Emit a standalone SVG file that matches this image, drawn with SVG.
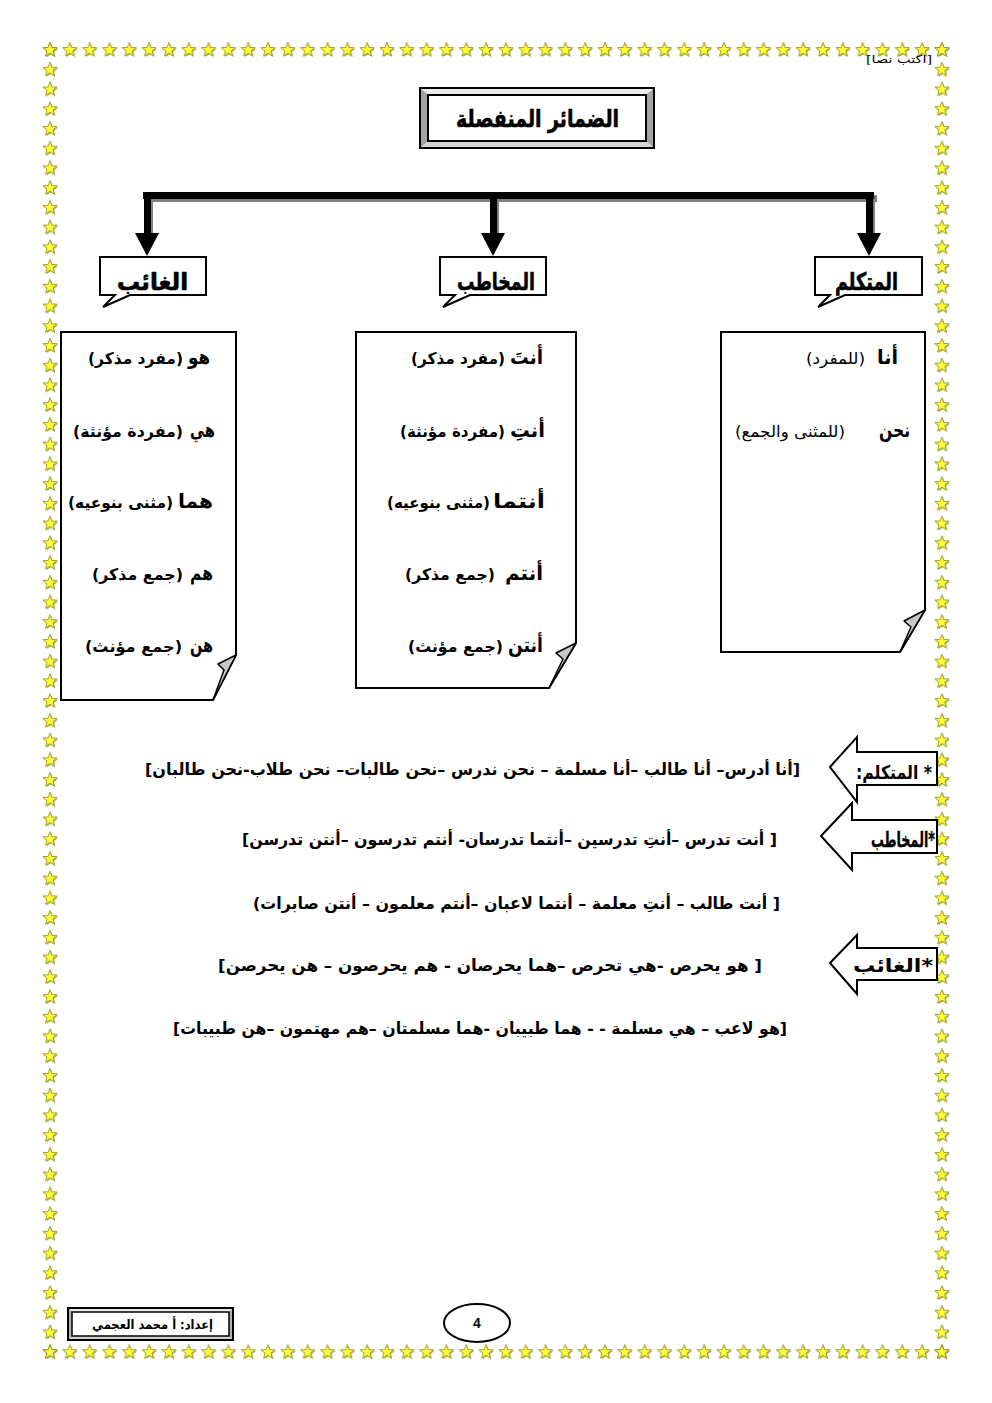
<svg xmlns="http://www.w3.org/2000/svg" width="992" height="1403" viewBox="0 0 992 1403">
<defs>
<style>
.ar{font-family:"DejaVu Sans","Noto Sans",sans-serif;font-weight:bold;fill:#000;direction:rtl;}
.reg{font-family:"DejaVu Sans","Noto Sans",sans-serif;font-weight:normal;fill:#000;direction:rtl;}
.box{fill:#fff;stroke:#000;stroke-width:2;}
.fold{fill:#c8c8c8;stroke:#000;stroke-width:1.5;stroke-linejoin:round;}
.blk{fill:#fff;stroke:#000;stroke-width:2;stroke-linejoin:miter;}
</style>
<pattern id="stars" patternUnits="userSpaceOnUse" x="40.09" y="40.135" width="19.82" height="19.73">
<g transform="translate(9.91,9.865)">
<path transform="translate(1,1)" fill="#a8a888" d="M0,-7.5 L1.83,-2.51 L7.13,-2.32 L2.95,0.96 L4.41,6.07 L0,3.1 L-4.41,6.07 L-2.95,0.96 L-7.13,-2.32 L-1.83,-2.51 Z"/>
<path fill="#ffff3c" stroke="#8c8c00" stroke-width="0.8" d="M0,-7.5 L1.83,-2.51 L7.13,-2.32 L2.95,0.96 L4.41,6.07 L0,3.1 L-4.41,6.07 L-2.95,0.96 L-7.13,-2.32 L-1.83,-2.51 Z"/>
</g>
</pattern>
</defs>
<rect width="992" height="1403" fill="#fff"/>
<g id="border">
<rect x="40.09" y="40.135" width="911.72" height="19.73" fill="url(#stars)"/>
<rect x="40.09" y="1342.135" width="911.72" height="19.73" fill="url(#stars)"/>
<rect x="40.09" y="40.135" width="19.82" height="1321.91" fill="url(#stars)"/>
<rect x="931.99" y="40.135" width="19.82" height="1321.91" fill="url(#stars)"/>
</g>
<g id="header">
<text class="reg" x="932" y="63" font-size="11" text-anchor="start" textLength="66" lengthAdjust="spacingAndGlyphs">[اكتب نصا]</text>
</g>
<g id="title">
<rect x="420" y="88" width="234" height="60" fill="#c0c0c0"/>
<polygon points="420,88 654,88 646,95 428,95" fill="#ececec"/>
<polygon points="420,88 428,95 428,141 420,148" fill="#a4a4a4"/>
<polygon points="654,88 646,95 646,141 654,148" fill="#a4a4a4"/>
<polygon points="420,148 428,141 646,141 654,148" fill="#d4d4d4"/>
<rect x="420" y="88" width="234" height="60" fill="none" stroke="#000" stroke-width="2"/>
<rect x="428" y="95" width="218" height="46" fill="#fff" stroke="#000" stroke-width="2"/>
<text class="ar" x="619" y="127" font-size="24" text-anchor="start" textLength="163" lengthAdjust="spacingAndGlyphs" stroke="#000" stroke-width="0.6">الضمائر المنفصلة</text>
</g>
<g id="connectors">
<rect x="146" y="195" width="731" height="7" fill="#808080"/>
<rect x="143" y="192" width="731" height="7" fill="#000"/>
<rect x="150" y="199" width="3" height="36" fill="#808080"/>
<rect x="144" y="192" width="7" height="43" fill="#000"/>
<polygon points="135,233 159,233 147,256" fill="#000"/>
<rect x="496" y="199" width="3" height="36" fill="#808080"/>
<rect x="490" y="192" width="7" height="43" fill="#000"/>
<polygon points="481,233 505,233 493,256" fill="#000"/>
<rect x="872" y="199" width="3" height="36" fill="#808080"/>
<rect x="866" y="192" width="7" height="43" fill="#000"/>
<polygon points="857,233 881,233 869,256" fill="#000"/>
</g>
<g id="tab-ghaib">
<path class="box" d="M100,257 H206 V295 H130 L103,307 L115,295 H100 Z"/>
<text class="ar" x="188" y="290" font-size="24" text-anchor="start" textLength="71" lengthAdjust="spacingAndGlyphs" stroke="#000" stroke-width="0.6">الغائب</text>
</g>
<g id="tab-mukhatab">
<path class="box" d="M440,257 H546 V295 H470 L443,307 L455,295 H440 Z"/>
<text class="ar" x="535" y="290" font-size="24" text-anchor="start" textLength="78" lengthAdjust="spacingAndGlyphs" stroke="#000" stroke-width="0.6">المخاطب</text>
</g>
<g id="tab-mutakallim">
<path class="box" d="M815,257 H922 V295 H845 L818,307 L830,295 H815 Z"/>
<text class="ar" x="898" y="290" font-size="24" text-anchor="start" textLength="63" lengthAdjust="spacingAndGlyphs" stroke="#000" stroke-width="0.6">المتكلم</text>
</g>
<g id="box-ghaib">
<path class="box" d="M61,332 H236 V655 L213,700 H61 Z"/>
<path class="fold" d="M236,655 L218,664 L224,670 L213,700 Z"/>
<text class="ar" x="210" y="364" font-size="20" text-anchor="start" textLength="22" lengthAdjust="spacingAndGlyphs">هو</text>
<text class="ar" x="183" y="364" font-size="16" text-anchor="start" textLength="95" lengthAdjust="spacingAndGlyphs">(مفرد مذكر)</text>
<text class="ar" x="215" y="437" font-size="20" text-anchor="start" textLength="25" lengthAdjust="spacingAndGlyphs">هي</text>
<text class="ar" x="183" y="437" font-size="16" text-anchor="start" textLength="110" lengthAdjust="spacingAndGlyphs">(مفردة مؤنثة)</text>
<text class="ar" x="213" y="508" font-size="20" text-anchor="start" textLength="35" lengthAdjust="spacingAndGlyphs">هما</text>
<text class="ar" x="173" y="508" font-size="16" text-anchor="start" textLength="105" lengthAdjust="spacingAndGlyphs">(مثنى بنوعيه)</text>
<text class="ar" x="213" y="580" font-size="20" text-anchor="start" textLength="23" lengthAdjust="spacingAndGlyphs">هم</text>
<text class="ar" x="183" y="580" font-size="16" text-anchor="start" textLength="91" lengthAdjust="spacingAndGlyphs">(جمع مذكر)</text>
<text class="ar" x="213" y="652" font-size="20" text-anchor="start" textLength="23" lengthAdjust="spacingAndGlyphs">هن</text>
<text class="ar" x="182" y="652" font-size="16" text-anchor="start" textLength="97" lengthAdjust="spacingAndGlyphs">(جمع مؤنث)</text>
</g>
<g id="box-mukhatab">
<path class="box" d="M356,332 H576 V643 L549,688 H356 Z"/>
<path class="fold" d="M576,643 L556,653 L563,659 L549,688 Z"/>
<text class="ar" x="543" y="364" font-size="20" text-anchor="start" textLength="33" lengthAdjust="spacingAndGlyphs">أنتَ</text>
<text class="ar" x="505" y="364" font-size="16" text-anchor="start" textLength="94" lengthAdjust="spacingAndGlyphs">(مفرد مذكر)</text>
<text class="ar" x="545" y="437" font-size="20" text-anchor="start" textLength="35" lengthAdjust="spacingAndGlyphs">أنتِ</text>
<text class="ar" x="505" y="437" font-size="16" text-anchor="start" textLength="105" lengthAdjust="spacingAndGlyphs">(مفردة مؤنثة)</text>
<text class="ar" x="545" y="508" font-size="20" text-anchor="start" textLength="52" lengthAdjust="spacingAndGlyphs">أنتما</text>
<text class="ar" x="490" y="508" font-size="16" text-anchor="start" textLength="103" lengthAdjust="spacingAndGlyphs">(مثنى بنوعيه)</text>
<text class="ar" x="543" y="580" font-size="20" text-anchor="start" textLength="38" lengthAdjust="spacingAndGlyphs">أنتم</text>
<text class="ar" x="495" y="580" font-size="16" text-anchor="start" textLength="90" lengthAdjust="spacingAndGlyphs">(جمع مذكر)</text>
<text class="ar" x="543" y="652" font-size="20" text-anchor="start" textLength="35" lengthAdjust="spacingAndGlyphs">أنتن</text>
<text class="ar" x="503" y="652" font-size="16" text-anchor="start" textLength="95" lengthAdjust="spacingAndGlyphs">(جمع مؤنث)</text>
</g>
<g id="box-mutakallim">
<path class="box" d="M721,332 H925 V610 L900,652 H721 Z"/>
<path class="fold" d="M925,610 L904,621 L911,627 L900,652 Z"/>
<text class="ar" x="898" y="364" font-size="20" text-anchor="start" textLength="21" lengthAdjust="spacingAndGlyphs">أنا</text>
<text class="reg" x="865" y="364" font-size="16" text-anchor="start" textLength="59" lengthAdjust="spacingAndGlyphs">(للمفرد)</text>
<text class="ar" x="910" y="437" font-size="20" text-anchor="start" textLength="31" lengthAdjust="spacingAndGlyphs">نحن</text>
<text class="reg" x="845" y="437" font-size="16" text-anchor="start" textLength="110" lengthAdjust="spacingAndGlyphs">(للمثنى والجمع)</text>
</g>
<g id="arrow-mutakallim">
<polygon class="blk" points="830,767 857,737 857,752 937,752 937,785 857,785 857,802"/>
<text class="ar" x="932" y="779" font-size="19" text-anchor="start" textLength="76" lengthAdjust="spacingAndGlyphs">* المتكلم:</text>
</g>
<g id="arrow-mukhatab">
<polygon class="blk" points="821,836 852,803 852,820 937,820 937,853 852,853 852,870"/>
<text class="ar" x="935" y="847" font-size="21" text-anchor="start" textLength="64" lengthAdjust="spacingAndGlyphs" stroke="#000" stroke-width="0.4">*المخاطب</text>
</g>
<g id="arrow-ghaib">
<polygon class="blk" points="830,963 857,935 857,948 937,948 937,980 857,980 857,994"/>
<text class="ar" x="933" y="972" font-size="19" text-anchor="start" textLength="80" lengthAdjust="spacingAndGlyphs">*الغائب</text>
</g>
<g id="examples">
<text class="ar" x="800" y="775" font-size="16.5" text-anchor="start" textLength="655" lengthAdjust="spacingAndGlyphs">[أنا أدرس– أنا طالب –أنا مسلمة – نحن ندرس –نحن طالبات– نحن طلاب-نحن طالبان]</text>
<text class="ar" x="777" y="845" font-size="16.5" text-anchor="start" textLength="535" lengthAdjust="spacingAndGlyphs">[ أنت تدرس  –أنتِ تدرسين –أنتما تدرسان- أنتم تدرسون –أنتن تدرسن]</text>
<text class="ar" x="780" y="909" font-size="16.5" text-anchor="start" textLength="527" lengthAdjust="spacingAndGlyphs">[ أنت طالب – أنتِ معلمة – أنتما لاعبان –أنتم معلمون – أنتن صابرات)</text>
<text class="ar" x="762" y="971" font-size="16.5" text-anchor="start" textLength="544" lengthAdjust="spacingAndGlyphs">[ هو يحرص -هي تحرص –هما يحرصان  - هم يحرصون – هن يحرصن]</text>
<text class="ar" x="787" y="1034" font-size="16.5" text-anchor="start" textLength="614" lengthAdjust="spacingAndGlyphs">[هو لاعب – هي مسلمة  - - هما طبيبان -هما مسلمتان –هم مهتمون –هن طبيبات]</text>
</g>
<g id="footer-author">
<rect x="68" y="1308" width="165" height="32" fill="#b0b0b0"/>
<polygon points="68,1308 233,1308 229,1312 72,1312" fill="#e8e8e8"/>
<polygon points="68,1340 72,1336 229,1336 233,1340" fill="#d0d0d0"/>
<rect x="68" y="1308" width="165" height="32" fill="none" stroke="#000" stroke-width="2"/>
<rect x="72" y="1312" width="157" height="24" fill="#fff" stroke="#000" stroke-width="1.5"/>
<text class="ar" x="213" y="1329" font-size="13" text-anchor="start" textLength="121" lengthAdjust="spacingAndGlyphs">إعداد: أ محمد العجمي</text>
</g>
<g id="page-number">
<ellipse cx="477" cy="1323" rx="33" ry="19" fill="#fff" stroke="#000" stroke-width="2"/>
<text x="477" y="1328" font-family="Liberation Sans, Arial, sans-serif" font-weight="bold" font-size="14" text-anchor="middle">4</text>
</g>
</svg>
